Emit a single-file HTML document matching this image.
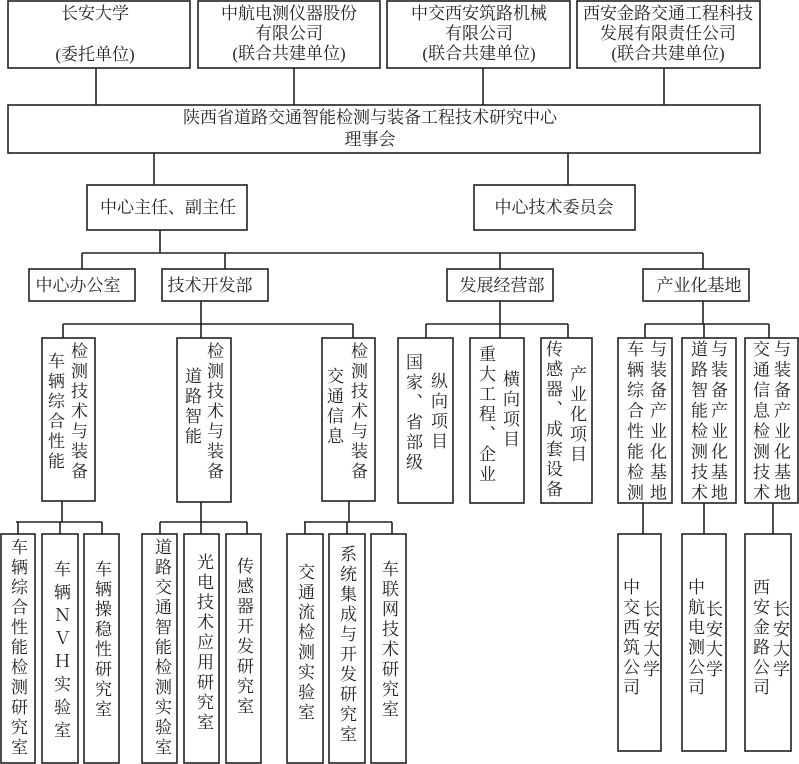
<!DOCTYPE html>
<html><head><meta charset="utf-8">
<style>
body{margin:0;background:#fff;}
#c{position:relative;width:799px;height:764px;overflow:hidden;background:#fff;font-family:"Liberation Serif","Noto Serif CJK SC",serif;color:#222;}
svg{position:absolute;left:0;top:0;}
.h{position:absolute;font-size:17px;line-height:20px;white-space:nowrap;text-align:center;transform:translateX(-50%);}
.v{position:absolute;writing-mode:vertical-rl;font-size:17px;line-height:17px;letter-spacing:3px;white-space:nowrap;}
</style></head><body><div id="c">
<svg width="799" height="764" fill="none" stroke="#222" stroke-width="1.6">
<rect x="8" y="1" width="182" height="67"/><rect x="198" y="1" width="182" height="67"/>
<rect x="387" y="1" width="183" height="67"/><rect x="577" y="1" width="183" height="67"/>
<path d="M96 68V105M294 68V105M483 68V105M664 68V105"/>
<rect x="8" y="105" width="752" height="48"/>
<path d="M154 153V185M568 153V185"/>
<rect x="87" y="185" width="160" height="45"/><rect x="474" y="185" width="161" height="45"/>
<path d="M160 230V253M82 253H703M82 253V269M225 253V269M500 253V269M703 253V269"/>
<rect x="29" y="269" width="106" height="32"/><rect x="162" y="269" width="106" height="32"/>
<rect x="447" y="269" width="106" height="32"/><rect x="643" y="269" width="106" height="32"/>
<path d="M201 301V324M500 301V324M703 301V324"/>
<path d="M63 324H353M63 324V338M201 324V338M353 324V338"/>
<path d="M426 324H568M426 324V338M500 324V338M568 324V338"/>
<path d="M645 324H769M645 324V338M704 324V338M769 324V338"/>
<rect x="42" y="338" width="53" height="163"/><rect x="177" y="338" width="54" height="164"/>
<rect x="322" y="338" width="53" height="163"/>
<rect x="398" y="338" width="55" height="165"/><rect x="470" y="338" width="54" height="165"/>
<rect x="541" y="338" width="51" height="165"/>
<rect x="618" y="338" width="54" height="165"/><rect x="682" y="338" width="54" height="165"/>
<rect x="745" y="338" width="53" height="165"/>
<path d="M62 501V522M16 522H102M18 522V534M60 522V534M102 522V534"/>
<path d="M201 502V522M160 522H247M160 522V534M201 522V534M247 522V534"/>
<path d="M349 501V522M304 522H392M305 522V534M347 522V534M392 522V534"/>
<rect x="1" y="534" width="34" height="229"/><rect x="42" y="534" width="36" height="229"/>
<rect x="84" y="534" width="35" height="229"/>
<rect x="142" y="534" width="35" height="229"/><rect x="184" y="534" width="35" height="229"/>
<rect x="226" y="534" width="35" height="229"/>
<rect x="287" y="534" width="36" height="229"/><rect x="329" y="534" width="36" height="229"/>
<rect x="371" y="534" width="35" height="229"/>
<path d="M643 503V534M704 503V534M773 503V534"/>
<rect x="618" y="534" width="43" height="217"/><rect x="682" y="534" width="44" height="217"/>
<rect x="745" y="534" width="46" height="217"/>
</svg>

<div class="h" style="left:95px;top:4px">长安大学</div>
<div class="h" style="left:95px;top:45px">(委托单位)</div>
<div class="h" style="left:289px;top:4px">中航电测仪器股份<br>有限公司<br>(联合共建单位)</div>
<div class="h" style="left:479px;top:4px">中交西安筑路机械<br>有限公司<br>(联合共建单位)</div>
<div class="h" style="left:668px;top:4px">西安金路交通工程科技<br>发展有限责任公司<br>(联合共建单位)</div>
<div class="h" style="left:370px;top:107px;line-height:22px">陕西省道路交通智能检测与装备工程技术研究中心<br>理事会</div>
<div class="h" style="left:168px;top:198px">中心主任、副主任</div>
<div class="h" style="left:554px;top:198px">中心技术委员会</div>
<div class="h" style="left:78px;top:276px">中心办公室</div>
<div class="h" style="left:210px;top:276px">技术开发部</div>
<div class="h" style="left:502px;top:276px">发展经营部</div>
<div class="h" style="left:699px;top:276px">产业化基地</div>

<div class="v" style="left:69px;top:342px">检测技术与装备</div>
<div class="v" style="left:46px;top:352px">车辆综合性能</div>
<div class="v" style="left:205px;top:342px">检测技术与装备</div>
<div class="v" style="left:183px;top:367px">道路智能</div>
<div class="v" style="left:349px;top:342px">检测技术与装备</div>
<div class="v" style="left:325px;top:367px">交通信息</div>

<div class="v" style="left:9px;top:538px">车辆综合性能检测研究室</div>
<div class="v" style="left:52px;top:560px;letter-spacing:6px">车辆ＮＶＨ实验室</div>
<div class="v" style="left:93px;top:560px">车辆操稳性研究室</div>
<div class="v" style="left:153px;top:538px">道路交通智能检测实验室</div>
<div class="v" style="left:195px;top:553px">光电技术应用研究室</div>
<div class="v" style="left:235px;top:557px">传感器开发研究室</div>
<div class="v" style="left:296px;top:563px">交通流检测实验室</div>
<div class="v" style="left:338px;top:545px">系统集成与开发研究室</div>
<div class="v" style="left:380px;top:560px">车联网技术研究室</div>

<div class="v" style="left:404px;top:353px">国家、省部级</div>
<div class="v" style="left:429px;top:372px">纵向项目</div>
<div class="v" style="left:477px;top:345px">重大工程、企业</div>
<div class="v" style="left:501px;top:370px">横向项目</div>
<div class="v" style="left:544px;top:340px">传感器、成套设备</div>
<div class="v" style="left:568px;top:365px">产业化项目</div>

<div class="v" style="left:625px;top:340px;letter-spacing:3.5px">车辆综合性能检测</div>
<div class="v" style="left:648px;top:340px;letter-spacing:3.5px">与装备产业化基地</div>
<div class="v" style="left:689px;top:340px;letter-spacing:3.5px">道路智能检测技术</div>
<div class="v" style="left:709px;top:340px;letter-spacing:3.5px">与装备产业化基地</div>
<div class="v" style="left:751px;top:340px;letter-spacing:3.5px">交通信息检测技术</div>
<div class="v" style="left:772px;top:340px;letter-spacing:3.5px">与装备产业化基地</div>

<div class="v" style="left:621px;top:578px">中交西筑公司</div>
<div class="v" style="left:641px;top:600px">长安大学</div>
<div class="v" style="left:686px;top:578px">中航电测公司</div>
<div class="v" style="left:704px;top:600px">长安大学</div>
<div class="v" style="left:751px;top:578px">西安金路公司</div>
<div class="v" style="left:771px;top:600px">长安大学</div>
</div></body></html>
